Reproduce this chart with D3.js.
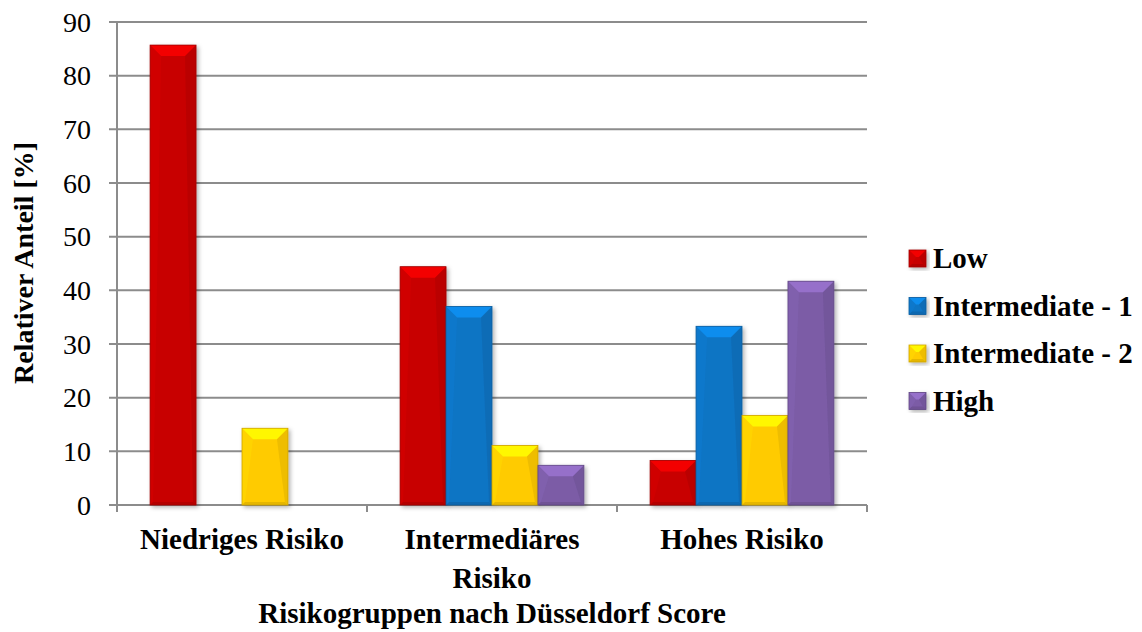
<!DOCTYPE html>
<html>
<head>
<meta charset="utf-8">
<script src="https://cdn.jsdelivr.net/npm/d3@7"></script>
<style>
  html, body { margin: 0; padding: 0; background: #fff; }
  svg { display: block; }
  text { font-family: "Liberation Serif", "Times New Roman", serif; fill: #000; }
</style>
</head>
<body>
<svg id="chart" width="1142" height="632"></svg>
<script>
// Risk groups (x categories) and the share of each Düsseldorf class in them
const categories = [["Niedriges Risiko"], ["Intermediäres", "Risiko"], ["Hohes Risiko"]];
const seriesNames = ["Low", "Intermediate - 1", "Intermediate - 2", "High"];
const low = [85.7, 44.4, 8.3];
const intermediate1 = [0, 37.0, 33.3];
const intermediate2 = [14.3, 11.1, 16.7];
const high = [0, 7.4, 41.7];
const yTicks = [0, 10, 20, 30, 40, 50, 60, 70, 80, 90];
const yTitle = "Relativer Anteil [%]";
const xTitle = "Risikogruppen nach Düsseldorf Score";

const seriesValues = [low, intermediate1, intermediate2, high];
const colors = ["#C80505", "#0B74C4", "#FFCB05", "#7B5CA6"];

const svg = d3.select("#chart");
const m = { left: 117, right: 867, top: 22, bottom: 505 };

const x0 = d3.scaleBand().domain(d3.range(categories.length)).range([m.left, m.right]).paddingInner(0).paddingOuter(0);
const x1 = d3.scaleBand().domain(d3.range(seriesNames.length)).range([0, x0.bandwidth()]).paddingOuter(0.72).paddingInner(0);
const y = d3.scaleLinear().domain([0, 90]).range([m.bottom, m.top]);

const defs = svg.append("defs");
const shadow = defs.append("filter").attr("id", "shadow").attr("x", "-20%").attr("y", "-20%").attr("width", "140%").attr("height", "140%");
shadow.append("feDropShadow").attr("dx", 2).attr("dy", 2).attr("stdDeviation", 2).attr("flood-color", "#000").attr("flood-opacity", 0.3);

// Gridlines (with short ticks to the left of the axis)
svg.append("g").selectAll("line").data(yTicks).join("line")
  .attr("x1", m.left - 8).attr("x2", m.right)
  .attr("y1", d => y(d)).attr("y2", d => y(d))
  .attr("stroke", "#8C8C8C").attr("stroke-width", 2);

// Y axis line
svg.append("line").attr("x1", m.left).attr("x2", m.left).attr("y1", m.top).attr("y2", m.bottom + 7)
  .attr("stroke", "#8C8C8C").attr("stroke-width", 2);

// Category separator ticks
svg.append("g").selectAll("line").data(d3.range(1, categories.length + 1)).join("line")
  .attr("x1", i => m.left + i * x0.bandwidth()).attr("x2", i => m.left + i * x0.bandwidth())
  .attr("y1", m.bottom).attr("y2", m.bottom + 7)
  .attr("stroke", "#8C8C8C").attr("stroke-width", 2);

// Y tick labels
svg.append("g").selectAll("text").data(yTicks).join("text")
  .attr("x", m.left - 26).attr("y", d => y(d)).attr("dy", "0.34em")
  .attr("text-anchor", "end").attr("font-size", 28).text(d => d);

// Beveled bar drawing
function bevelBar(g, x, yTop, w, h, color, bev) {
  if (h <= 0) return;
  const b = Math.min(bev, h / 2, w / 2);
  const c = d3.color(color);
  const light = c.brighter(0.55).formatHex();
  const lighter = c.brighter(0.3).formatHex();
  const dark = c.darker(0.6).formatHex();
  const darker = c.darker(0.3).formatHex();
  const bar = g.append("g").attr("filter", "url(#shadow)");
  bar.append("rect").attr("x", x).attr("y", yTop).attr("width", w).attr("height", h).attr("fill", color);
  const x2 = x + w, y2 = yTop + h;
  const sb = Math.min(3, b);
  // top bevel
  bar.append("polygon").attr("points", [[x, yTop], [x2, yTop], [x2 - b, yTop + b], [x + b, yTop + b]].join(" ")).attr("fill", light);
  // left side
  bar.append("polygon").attr("points", [[x, yTop], [x + b, yTop + b], [x + sb, y2 - sb], [x, y2]].join(" ")).attr("fill", lighter).attr("opacity", 0.35);
  // right side
  bar.append("polygon").attr("points", [[x2, yTop], [x2 - b, yTop + b], [x2 - sb, y2 - sb], [x2, y2]].join(" ")).attr("fill", dark).attr("opacity", 0.35);
  // bottom edge
  bar.append("polygon").attr("points", [[x, y2], [x + sb, y2 - sb], [x2 - sb, y2 - sb], [x2, y2]].join(" ")).attr("fill", darker);
  bar.append("rect").attr("x", x).attr("y", yTop).attr("width", w).attr("height", h)
    .attr("fill", "none").attr("stroke", dark).attr("stroke-width", 0.8);
}

const barsG = svg.append("g");
categories.forEach((cat, ci) => {
  seriesValues.forEach((vals, si) => {
    const v = vals[ci];
    const bx = x0(ci) + x1(si);
    bevelBar(barsG, bx, y(v), x1.bandwidth(), y(0) - y(v), colors[si], 11);
  });
});

// Category labels
const catG = svg.append("g");
categories.forEach((lines, ci) => {
  const cx = x0(ci) + x0.bandwidth() / 2;
  const t = catG.append("text").attr("x", cx).attr("y", 549)
    .attr("text-anchor", "middle").attr("font-size", 29).attr("font-weight", "bold");
  lines.forEach((ln, li) => t.append("tspan").attr("x", cx).attr("dy", li === 0 ? 0 : 39).text(ln));
});

// Axis titles
svg.append("text").attr("x", 492).attr("y", 623).attr("text-anchor", "middle")
  .attr("font-size", 29).attr("font-weight", "bold").text(xTitle);
svg.append("text").attr("transform", "translate(33,263) rotate(-90)").attr("text-anchor", "middle")
  .attr("font-size", 28).attr("font-weight", "bold").text(yTitle);

// Legend
const legend = svg.append("g").attr("transform", "translate(909,258)");
seriesNames.forEach((name, i) => {
  const row = legend.append("g").attr("transform", `translate(0,${i * 47.5})`);
  bevelBar(row, 0, -8, 17, 17, colors[i], 7);
  row.append("text").attr("x", 24).attr("y", 0).attr("dy", "0.35em")
    .attr("font-size", 29).attr("font-weight", "bold").text(name);
});
</script>
</body>
</html>
